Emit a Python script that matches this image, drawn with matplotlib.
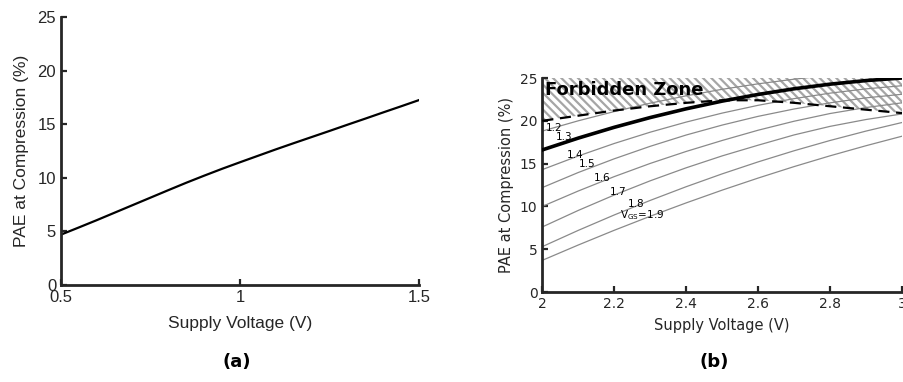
import matplotlib
matplotlib.use("Agg")
import matplotlib.pyplot as plt

# ---------- DATA ----------
# (a) PAE vs supply voltage
va = [0.5, 0.55, 0.6, 0.65, 0.7, 0.75, 0.8, 0.85, 0.9, 0.95, 1.0,
      1.05, 1.1, 1.15, 1.2, 1.25, 1.3, 1.35, 1.4, 1.45, 1.5]
pae_a = [4.7, 5.37, 6.05, 6.75, 7.45, 8.15, 8.85, 9.54, 10.2, 10.84, 11.45,
         12.05, 12.65, 13.23, 13.8, 14.37, 14.95, 15.52, 16.1, 16.67, 17.25]

# (b) PAE vs supply voltage for several VGS
vb = [2.0, 2.1, 2.2, 2.3, 2.4, 2.5, 2.6, 2.7, 2.8, 2.9, 3.0]
vgs_curves = {
    "1.2": [18.8, 20.0, 21.08, 22.06, 22.92, 23.68, 24.32, 24.86, 25.33, 25.7, 26.05],
    "1.4": [14.3, 15.89, 17.35, 18.67, 19.85, 20.9, 21.81, 22.59, 23.23, 23.73, 24.1],
    "1.5": [12.2, 13.96, 15.56, 17.02, 18.34, 19.5, 20.52, 21.38, 22.1, 22.68, 23.1],
    "1.6": [10.0, 11.8, 13.48, 15.02, 16.42, 17.7, 18.9, 19.95, 20.85, 21.55, 22.1],
    "1.7": [7.6, 9.53, 11.33, 12.99, 14.51, 15.9, 17.15, 18.35, 19.35, 20.15, 20.8],
    "1.8": [5.3, 7.2, 9.0, 10.7, 12.3, 13.8, 15.2, 16.5, 17.7, 18.8, 19.8],
    "1.9": [3.7, 5.49, 7.21, 8.85, 10.41, 11.9, 13.31, 14.65, 15.91, 17.09, 18.2],
}
bold_curve = [16.6, 17.98, 19.24, 20.38, 21.4, 22.3, 23.08, 23.74, 24.28, 24.7, 25.0]
limit_curve = [20.0, 20.6, 21.2, 21.7, 22.1, 22.4, 22.4, 22.1, 21.7, 21.3, 20.9]

# label text and position (x, y) for each VGS curve
curve_labels = ["1.2", "1.3", "1.4", "1.5", "1.6", "1.7", "1.8"]
label_x = [2.033, 2.061, 2.09, 2.125, 2.165, 2.21, 2.26]
label_y = [19.2, 18.1, 16.0, 14.9, 13.3, 11.7, 10.3]

TXT = "#262626"
W, H = 904, 382

plt.rcParams["hatch.linewidth"] = 1.6

fig = plt.figure(figsize=(W / 100, H / 100), dpi=100)


def style_axes(ax, family, size):
    for s in ["top", "right"]:
        ax.spines[s].set_visible(False)
    for s in ["left", "bottom"]:
        ax.spines[s].set_linewidth(2.0)
        ax.spines[s].set_color(TXT)
    ax.tick_params(direction="in", length=4, width=1.6, colors=TXT, labelsize=size)
    for lab in ax.get_xticklabels() + ax.get_yticklabels():
        lab.set_family(family)


# ---------- PANEL (a) ----------
axa = fig.add_axes([61 / W, (H - 285) / H, (419 - 61) / W, (285 - 17) / H])
axa.plot(va, pae_a, color="black", lw=1.6)
axa.set_xlim(0.5, 1.5)
axa.set_ylim(0, 25)
axa.set_xticks([0.5, 1, 1.5])
axa.set_xticklabels(["0.5", "1", "1.5"])
axa.set_yticks([0, 5, 10, 15, 20, 25])
style_axes(axa, "Liberation Sans", 12)
axa.set_xlabel("Supply Voltage (V)", family="Liberation Sans", fontsize=12.5, color=TXT, labelpad=8)
axa.set_ylabel("PAE at Compression (%)", family="Liberation Sans", fontsize=12.5, color=TXT, labelpad=6)

# ---------- PANEL (b) ----------
axb = fig.add_axes([542.3 / W, (H - 292) / H, (902 - 542.3) / W, (292 - 78) / H])
axb.fill_between(vb, limit_curve, 25, facecolor="white", edgecolor="#a6a6a6",
                 hatch="\\" * 4, linewidth=0, zorder=1)
for name, vals in vgs_curves.items():
    axb.plot(vb, vals, color="#8a8a8a", lw=0.9, zorder=2)
axb.plot(vb, bold_curve, color="black", lw=2.6, zorder=4)
axb.plot(vb, limit_curve, color="black", lw=1.6, ls=(0, (5, 3)), zorder=3)
for t, x, y in zip(curve_labels, label_x, label_y):
    axb.text(x, y, t, fontsize=7.5, ha="center", va="center", family="DejaVu Sans", zorder=5)
axb.text(2.215, 9.0, r"V$_{\mathregular{GS}}$=1.9", fontsize=7.5, ha="left", va="center",
         family="DejaVu Sans", zorder=5)
axb.text(2.008, 23.6, "Forbidden Zone", fontsize=13, fontweight="bold",
         family="DejaVu Sans", ha="left", va="center", zorder=5)
axb.set_xlim(2, 3)
axb.set_ylim(0, 25)
axb.set_xticks([2, 2.2, 2.4, 2.6, 2.8, 3])
axb.set_xticklabels(["2", "2.2", "2.4", "2.6", "2.8", "3"])
axb.set_yticks([0, 5, 10, 15, 20, 25])
style_axes(axb, "DejaVu Sans", 10)
axb.set_xlabel("Supply Voltage (V)", family="DejaVu Sans", fontsize=10.5, color=TXT, labelpad=5)
axb.set_ylabel("PAE at Compression (%)", family="DejaVu Sans", fontsize=10.5, color=TXT, labelpad=4)

# ---------- CAPTIONS ----------
fig.text(237 / W, 1 - 362 / H, "(a)", fontsize=13, fontweight="bold", ha="center", va="center", family="DejaVu Sans")
fig.text(714 / W, 1 - 362 / H, "(b)", fontsize=13, fontweight="bold", ha="center", va="center", family="DejaVu Sans")

fig.savefig("out.png", dpi=100)
